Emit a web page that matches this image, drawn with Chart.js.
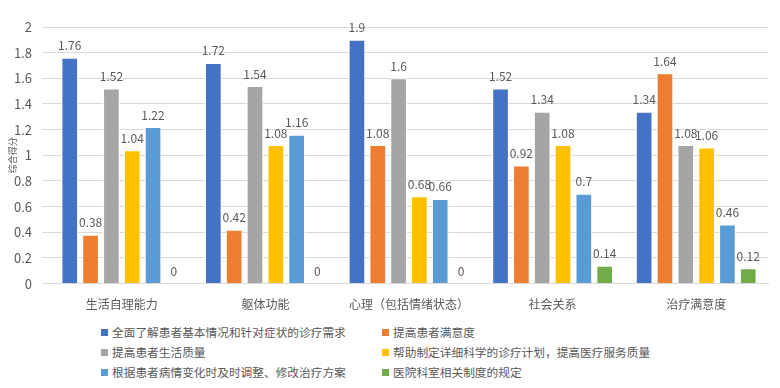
<!DOCTYPE html>
<html>
<head>
<meta charset="utf-8">
<script src="https://cdn.jsdelivr.net/npm/chart.js@4"></script>
<style>
  html, body { margin: 0; padding: 0; background: #fff; }
  #wrap { position: relative; width: 780px; height: 388px; }
  #chart { position: absolute; left: 0; top: 0; }
  #legend { position: absolute; left: 101px; top: 323px; width: 660px;
    display: grid; grid-template-columns: 281px 370px; row-gap: 3px;
    font-family: "Noto Sans CJK SC", sans-serif; font-size: 11.7px; line-height: 17px; color: #595959; white-space: nowrap; }
  #legend span.box { display: inline-block; width: 7px; height: 7px; margin-right: 4px; vertical-align: 1px; }
</style>
</head>
<body>
<div id="wrap">
  <canvas id="chart" width="780" height="318"></canvas>
  <div id="legend"></div>
</div>
<script>
const categories = ['生活自理能力', '躯体功能', '心理（包括情绪状态）', '社会关系', '治疗满意度'];
const seriesNames = [
    '全面了解患者基本情况和针对症状的诊疗需求',
    '提高患者满意度',
    '提高患者生活质量',
    '帮助制定详细科学的诊疗计划，提高医疗服务质量',
    '根据患者病情变化时及时调整、修改治疗方案',
    '医院科室相关制度的规定',
];
const understandNeeds = [1.76, 1.72, 1.9, 1.52, 1.34];
const satisfaction = [0.38, 0.42, 1.08, 0.92, 1.64];
const lifeQuality = [1.52, 1.54, 1.6, 1.34, 1.08];
const treatmentPlan = [1.04, 1.08, 0.68, 1.08, 1.06];
const adjustTreatment = [1.22, 1.16, 0.66, 0.7, 0.46];
const hospitalRules = [0, 0, 0, 0.14, 0.12];
const yTicks = [0, 0.2, 0.4, 0.6, 0.8, 1, 1.2, 1.4, 1.6, 1.8, 2];

const colors = ['#4472C4', '#ED7D31', '#A5A5A5', '#FFC000', '#5B9BD5', '#70AD47'];
const seriesValues = [understandNeeds, satisfaction, lifeQuality, treatmentPlan, adjustTreatment, hospitalRules];
const FONT = '"Noto Sans CJK SC", sans-serif';

const datasets = seriesValues.map((vals, i) => ({
    label: seriesNames[i],
    data: vals,
    backgroundColor: colors[i],
    borderColor: '#ffffff',
    borderWidth: 1,
    categoryPercentage: 0.87,
    barPercentage: 0.8,
}));

const valueLabels = {
    id: 'valueLabels',
    afterDatasetsDraw: (chart) => {
        const { ctx } = chart;
        ctx.save();
        ctx.font = '12px ' + FONT;
        ctx.fillStyle = '#595959';
        ctx.textAlign = 'center';
        ctx.textBaseline = 'bottom';
        chart.data.datasets.forEach((ds, di) => {
            chart.getDatasetMeta(di).data.forEach((bar, idx) => {
                ctx.fillText(String(ds.data[idx]), bar.x, bar.y - 6);
            });
        });
        ctx.restore();
    },
};

new Chart(document.getElementById('chart'), {
    type: 'bar',
    data: { labels: categories, datasets: datasets },
    options: {
        responsive: false,
        animation: false,
        layout: { padding: { top: 27, right: 12, left: 0, bottom: 0 } },
        plugins: {
            legend: { display: false },
            tooltip: { enabled: false },
        },
        scales: {
            x: {
                grid: { display: false },
                border: { color: '#D9D9D9' },
                ticks: { color: '#595959', font: { family: FONT, size: 12 }, padding: 6 },
            },
            y: {
                min: 0,
                max: 2,
                afterBuildTicks: (scale) => { scale.ticks = yTicks.map(v => ({ value: v })); },
                afterFit: (scale) => { scale.width = 50; },
                grid: { color: '#D9D9D9' },
                border: { display: false },
                ticks: { color: '#595959', font: { family: FONT, size: 13 }, padding: 10, callback: (v) => String(v) },
                title: { display: true, text: '综合得分', color: '#595959', font: { family: FONT, size: 9 }, padding: { top: 7, bottom: 0 } },
            },
        },
    },
    plugins: [valueLabels],
});

const legend = document.getElementById('legend');
seriesNames.forEach((name, i) => {
    const item = document.createElement('div');
    item.innerHTML = '<span class="box" style="background:' + colors[i] + '"></span>' + name;
    legend.appendChild(item);
});
</script>
</body>
</html>
